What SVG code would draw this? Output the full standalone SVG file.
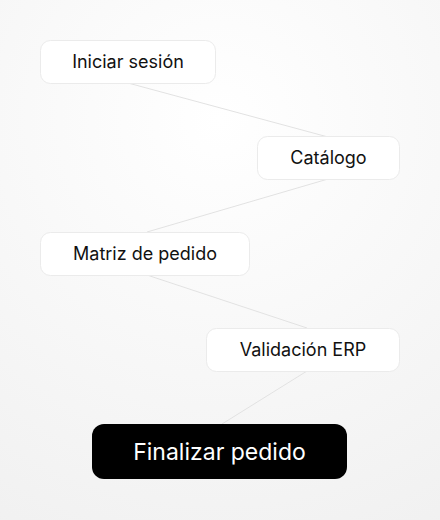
<svg xmlns="http://www.w3.org/2000/svg" width="440" height="520" viewBox="0 0 440 520">
<defs>
<radialGradient id="bg" cx="220" cy="120" r="480" gradientUnits="userSpaceOnUse">
<stop offset="0" stop-color="#ffffff"/>
<stop offset="1" stop-color="#f0f0f0"/>
</radialGradient>
<style>
.n rect{fill:#ffffff;stroke:#ebebeb;stroke-width:1}
.n text{font-family:Inter,"Noto Sans",sans-serif;font-size:18px;fill:#111111;text-anchor:middle}
.f rect{fill:#000000}
.f text{font-family:Inter,"Noto Sans",sans-serif;font-size:23px;fill:#ffffff;text-anchor:middle}
.c line{stroke:#e2e2e2;stroke-width:1}
</style>
</defs>
<rect width="440" height="520" fill="url(#bg)"/>
<g class="c" id="connectors">
<line x1="128" y1="83" x2="328" y2="137"/>
<line x1="328" y1="179" x2="147" y2="232"/>
<line x1="147" y1="275" x2="307" y2="328"/>
<line x1="307" y1="371" x2="222" y2="424"/>
</g>
<g class="n" id="n1">
<rect x="40.5" y="40.5" width="175" height="43" rx="10"/>
<text x="128" y="68">Iniciar sesión</text>
</g>
<g class="n" id="n2">
<rect x="257.5" y="136.5" width="142" height="43" rx="10"/>
<text x="328.5" y="164">Catálogo</text>
</g>
<g class="n" id="n3">
<rect x="40.5" y="232.5" width="209" height="43" rx="10"/>
<text x="145" y="260">Matriz de pedido</text>
</g>
<g class="n" id="n4">
<rect x="206.5" y="328.5" width="193" height="43" rx="10"/>
<text x="303" y="356">Validación ERP</text>
</g>
<g class="f" id="n5">
<rect x="92" y="424" width="255" height="55" rx="12"/>
<text x="219.5" y="460">Finalizar pedido</text>
</g>
</svg>
